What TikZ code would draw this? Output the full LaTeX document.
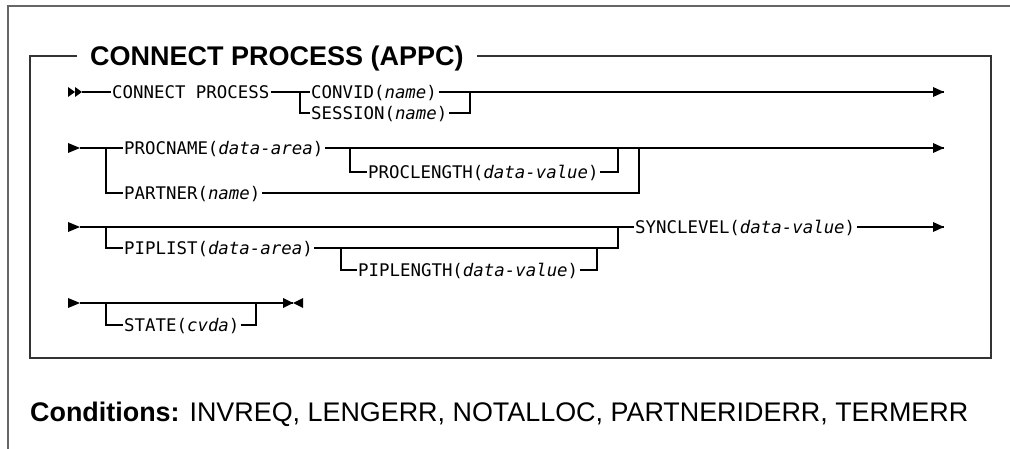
\documentclass[tikz,border=0pt]{standalone}
\usepackage{fontspec}
\setmainfont{Liberation Sans}
\newfontfamily\railfont{DejaVu Sans Mono}
\usetikzlibrary{positioning}

\begin{document}
\begin{tikzpicture}[
  x=1pt, y=-1pt,
  rail/.style={line width=1.2pt},
  kw/.style={anchor=west, inner xsep=1.5pt, inner ysep=0pt,
    text height=12.6pt, text depth=0pt,
    font=\railfont\fontsize{17.4}{20}\selectfont},
  frame/.style={line width=2pt, black!60},
  box/.style={line width=1.8pt, black!80},
  tip/.style={fill=black}
]
  \useasboundingbox (0,0) rectangle (1010,449);

  % Outer frame
  \draw[frame] (8,449) -- (8,6) -- (1010,6);

  % Title box
  \node[anchor=west, inner sep=0pt, text height=19.4pt, text depth=0pt,
    font=\bfseries\fontsize{27}{30}\selectfont] (title) at (90,56) {CONNECT PROCESS (APPC)};
  \coordinate (box top left) at (30,56);
  \coordinate (box bottom left) at (30,358);
  \coordinate (box bottom right) at (991,358);
  \coordinate (box top right) at (991,56);
  \draw[box] ([xshift=-13pt]title.west) -- (box top left) -- (box bottom left)
    -- (box bottom right) -- (box top right) -- ([xshift=13pt]title.east);

  % Row 1
  \coordinate (r1 start) at (82,92);
  \coordinate (r1 split) at (300,92);
  \coordinate (r1 join) at (470,92);
  \coordinate (r1 end) at (944,92);
  \node[kw] (connect) at (110.5,92) {CONNECT PROCESS};
  \node[kw] (convid) at (309.5,92) {CONVID(\textit{name})};
  \node[kw] (session) at (309.5,113) {SESSION(\textit{name})};

  \draw[rail] (r1 start) -- (connect.west);
  \draw[rail] (connect.east) -- (convid.west);
  \draw[rail] (convid.east) -- (r1 end);
  \draw[rail] (r1 split) |- (session.west);
  \draw[rail] (session.east) -| (r1 join);

  \fill[tip] (r1 start) -- ++(-7,-5) -- ++(0,10) -- cycle;
  \fill[tip] ([xshift=-7pt]r1 start) -- ++(-7,-5) -- ++(0,10) -- cycle;
  \fill[tip] (r1 end) -- ++(-11,-5) -- ++(0,10) -- cycle;

  % Row 2
  \coordinate (r2 start) at (80,148);
  \coordinate (r2 split) at (106,148);
  \coordinate (r2 optsplit) at (350,148);
  \coordinate (r2 optjoin) at (618,148);
  \coordinate (r2 join) at (639,148);
  \coordinate (r2 end) at (944,148);
  \node[kw] (procname) at (122.5,148) {PROCNAME(\textit{data-area})};
  \node[kw] (proclength) at (366.5,172) {PROCLENGTH(\textit{data-value})};
  \node[kw] (partner) at (122.5,193) {PARTNER(\textit{name})};

  \draw[rail] (r2 start) -- (procname.west);
  \draw[rail] (procname.east) -- (r2 end);
  \draw[rail] (r2 split) |- (partner.west);
  \draw[rail] (partner.east) -| (r2 join);
  \draw[rail] (r2 optsplit) |- (proclength.west);
  \draw[rail] (proclength.east) -| (r2 optjoin);

  \fill[tip] (r2 start) -- ++(-12,-5) -- ++(0,10) -- cycle;
  \fill[tip] (r2 end) -- ++(-11,-5) -- ++(0,10) -- cycle;

  % Row 3
  \coordinate (r3 start) at (80,227);
  \coordinate (r3 split) at (106,227);
  \coordinate (r3 optsplit) at (341,248);
  \coordinate (r3 optjoin) at (597,248);
  \coordinate (r3 join) at (618,227);
  \coordinate (r3 end) at (944,227);
  \node[kw] (piplist) at (122.5,248) {PIPLIST(\textit{data-area})};
  \node[kw] (piplength) at (356.5,270) {PIPLENGTH(\textit{data-value})};
  \node[kw] (synclevel) at (633.5,227) {SYNCLEVEL(\textit{data-value})};

  \draw[rail] (r3 start) -- (synclevel.west);
  \draw[rail] (synclevel.east) -- (r3 end);
  \draw[rail] (r3 split) |- (piplist.west);
  \draw[rail] (piplist.east) -| (r3 join);
  \draw[rail] (r3 optsplit) |- (piplength.west);
  \draw[rail] (piplength.east) -| (r3 optjoin);

  \fill[tip] (r3 start) -- ++(-12,-5) -- ++(0,10) -- cycle;
  \fill[tip] (r3 end) -- ++(-11,-5) -- ++(0,10) -- cycle;

  % Row 4
  \coordinate (r4 start) at (80,303);
  \coordinate (r4 split) at (106,303);
  \coordinate (r4 join) at (256,303);
  \coordinate (r4 end) at (293,303);
  \node[kw] (state) at (122.5,325) {STATE(\textit{cvda})};

  \draw[rail] (r4 start) -- (r4 end);
  \draw[rail] (r4 split) |- (state.west);
  \draw[rail] (state.east) -| (r4 join);

  \fill[tip] (r4 start) -- ++(-12,-5) -- ++(0,10) -- cycle;
  \fill[tip] (r4 end) -- ++(-10,-5) -- ++(0,10) -- cycle;
  \fill[tip] (r4 end) -- ++(10,-5) -- ++(0,10) -- cycle;

  % Conditions
  \node[anchor=west, inner sep=0pt, text height=19pt, text depth=0pt,
    font=\fontsize{26.9}{30}\selectfont] (conditions) at (30,412)
    {\textbf{Conditions:} INVREQ, LENGERR, NOTALLOC, PARTNERIDERR, TERMERR};
\end{tikzpicture}
\end{document}
